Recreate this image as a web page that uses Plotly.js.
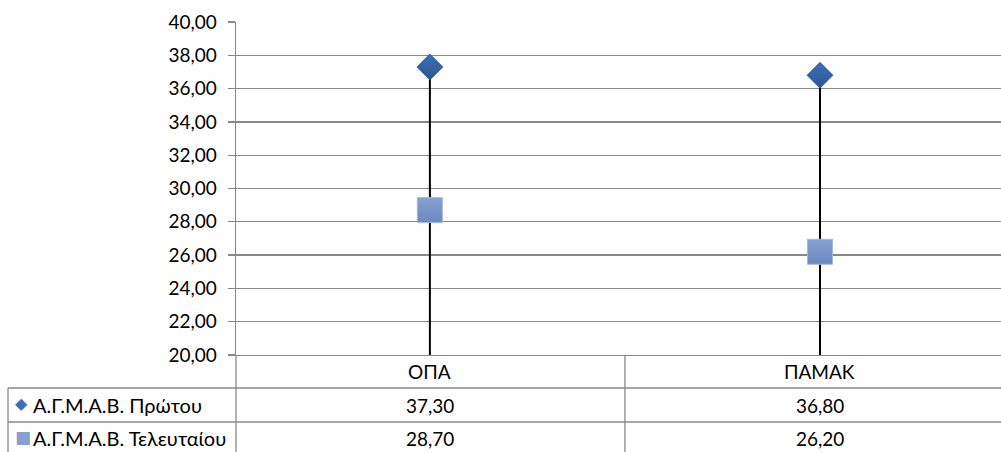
<!DOCTYPE html>
<html>
<head>
<meta charset="utf-8">
<script src="https://cdn.plot.ly/plotly-3.0.1.min.js"></script>
<style>html,body{margin:0;padding:0;background:#fff;}#chart{width:1001px;height:452px;}</style>
</head>
<body>
<div id="chart"></div>
<script>
const categories = ["ΟΠΑ", "ΠΑΜΑΚ"];
const seriesNames = ["Α.Γ.Μ.Α.Β. Πρώτου", "Α.Γ.Μ.Α.Β. Τελευταίου"];
const firstValues = [37.30, 36.80];
const lastValues = [28.70, 26.20];
const yMin = 20, yMax = 40, yStep = 2;

const FONT = "Lato, 'Open Sans', sans-serif";
const GRID = "#888888";
const diamondColor = "#3D70B6";
const squareColor = "#86A0D3";
const fmt = v => v.toFixed(2).replace('.', ',');

const xIdx = categories.map((c, i) => i);

const traces = [
  {
    type: 'scatter', mode: 'markers', name: seriesNames[0],
    x: xIdx, y: firstValues,
    marker: {symbol: 'diamond', size: 20, color: diamondColor,
             gradient: {type: 'vertical', color: '#2B5692'},
             line: {color: '#2E5A97', width: 0.8}},
    error_y: {type: 'data', symmetric: false, array: firstValues.map(() => 0),
              arrayminus: firstValues.map(v => v - yMin), width: 0, color: '#000000', thickness: 2},
    hoverinfo: 'y', showlegend: false
  },
  {
    type: 'scatter', mode: 'markers', name: seriesNames[1],
    x: xIdx, y: lastValues,
    marker: {symbol: 'square', size: 25, color: squareColor,
             gradient: {type: 'vertical', color: '#6D89C1'},
             line: {color: '#A3B7DC', width: 1}},
    hoverinfo: 'y', showlegend: false
  }
];

// table geometry (paper coordinates)
const plotTop = 22, plotH = 333, plotL = 236, plotW = 765;
const py = pix => 1 - (pix - plotTop) / plotH;
const px = pix => (pix - plotL) / plotW;

const rowLines = [388, 422];
const shapes = [];
rowLines.forEach(r => shapes.push({type: 'line', xref: 'paper', yref: 'paper',
  x0: px(8), x1: px(1001), y0: py(r), y1: py(r), line: {color: GRID, width: 1.3}}));
shapes.push({type: 'line', xref: 'paper', yref: 'paper', x0: px(8), x1: px(8),
  y0: py(388), y1: py(460), line: {color: GRID, width: 1.3}});
shapes.push({type: 'line', xref: 'paper', yref: 'paper', x0: 0, x1: 0,
  y0: 0, y1: py(460), line: {color: GRID, width: 1.3}});
for (let i = 0; i < categories.length - 1; i++) {
  shapes.push({type: 'line', xref: 'x', yref: 'paper', x0: i + 0.5, x1: i + 0.5,
    y0: 0, y1: py(460), line: {color: GRID, width: 1.3}});
}

const annotations = [];
const tFont = {family: FONT, size: 19, color: '#000'};
const hFont = {family: FONT, size: 20, color: '#000'};
categories.forEach((c, i) => {
  annotations.push({xref: 'x', yref: 'paper', x: i, y: py(371), text: c, showarrow: false, font: tFont, xanchor: 'center', yanchor: 'middle'});
  annotations.push({xref: 'x', yref: 'paper', x: i, y: py(405), text: fmt(firstValues[i]), showarrow: false, font: tFont, xanchor: 'center', yanchor: 'middle'});
  annotations.push({xref: 'x', yref: 'paper', x: i, y: py(438), text: fmt(lastValues[i]), showarrow: false, font: tFont, xanchor: 'center', yanchor: 'middle'});
});
// row header keys
annotations.push({xref: 'paper', yref: 'paper', x: px(21), y: py(404), xanchor: 'center', yanchor: 'middle', showarrow: false,
  font: {family: 'DejaVu Sans', size: 16, color: diamondColor}, text: '◆'});
annotations.push({xref: 'paper', yref: 'paper', x: px(23), y: py(437), xanchor: 'center', yanchor: 'middle', showarrow: false,
  font: {family: 'DejaVu Sans', size: 17, color: squareColor}, text: '■'});
annotations.push({xref: 'paper', yref: 'paper', x: px(31), y: py(405), xanchor: 'left', yanchor: 'middle', showarrow: false, font: hFont,
  text: seriesNames[0]});
annotations.push({xref: 'paper', yref: 'paper', x: px(31), y: py(438), xanchor: 'left', yanchor: 'middle', showarrow: false, font: hFont,
  text: seriesNames[1]});

const tickVals = [];
for (let v = yMin; v <= yMax; v += yStep) tickVals.push(v);

const layout = {
  width: 1001, height: 452,
  margin: {l: plotL, r: 0, t: plotTop, b: 452 - plotTop - plotH, pad: 0},
  paper_bgcolor: '#fff', plot_bgcolor: '#fff',
  separators: ',.',
  font: {family: FONT, size: 19, color: '#000'},
  xaxis: {
    range: [-0.497, 1.464], showgrid: false, zeroline: false, showticklabels: false,
    showline: true, linecolor: GRID, linewidth: 1.3, ticks: '', fixedrange: true
  },
  yaxis: {
    range: [yMin, yMax], tickvals: tickVals, tickformat: '.2f',
    showgrid: true, gridcolor: GRID, gridwidth: 1.3, zeroline: false,
    showline: true, linecolor: GRID, linewidth: 1.3,
    ticks: 'outside', ticklen: 7, tickcolor: GRID, tickwidth: 1.3,
    ticklabelstandoff: 7,
    tickfont: {family: FONT, size: 19, color: '#000'}, fixedrange: true
  },
  shapes: shapes,
  annotations: annotations,
  showlegend: false
};

Plotly.newPlot('chart', traces, layout, {displayModeBar: false, staticPlot: true});
</script>
</body>
</html>
